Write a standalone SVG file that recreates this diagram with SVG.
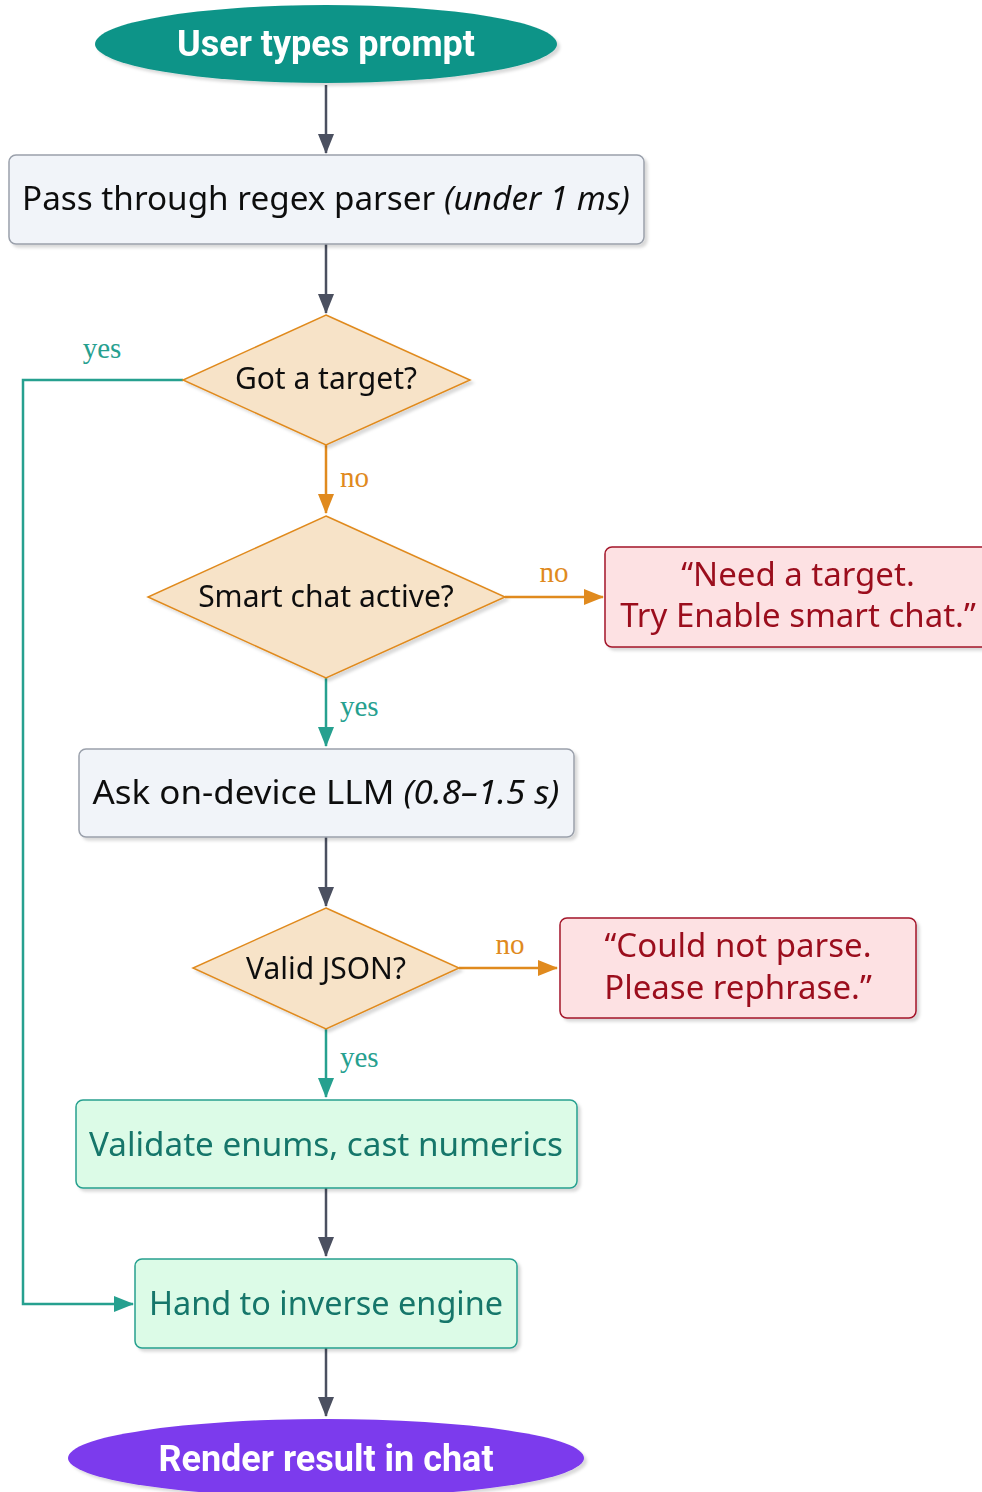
<svg xmlns="http://www.w3.org/2000/svg" width="982" height="1492" viewBox="0 0 982 1492">
<defs>
<filter id="sh" x="-10%" y="-10%" width="130%" height="140%">
<feDropShadow dx="3" dy="3" stdDeviation="1.5" flood-color="#000" flood-opacity="0.15"/>
</filter>
<marker id="aG" viewBox="0 0 20 16" refX="19" refY="8" markerWidth="20" markerHeight="16" markerUnits="userSpaceOnUse" orient="auto"><path d="M0,0 L20,8 L0,16 z" fill="#4b5060"/></marker>
<marker id="aO" viewBox="0 0 20 16" refX="19" refY="8" markerWidth="20" markerHeight="16" markerUnits="userSpaceOnUse" orient="auto"><path d="M0,0 L20,8 L0,16 z" fill="#e08a1e"/></marker>
<marker id="aT" viewBox="0 0 20 16" refX="19" refY="8" markerWidth="20" markerHeight="16" markerUnits="userSpaceOnUse" orient="auto"><path d="M0,0 L20,8 L0,16 z" fill="#26a08f"/></marker>
</defs>
<style>
.term{font-family:Roboto,"Noto Sans",sans-serif;font-weight:bold;font-size:36px;fill:#fff;text-anchor:middle}
.t{font-family:"Noto Sans","Open Sans",sans-serif;font-size:33px;text-anchor:middle}
.proc rect{fill:#f1f4f9;stroke:#9aa0ab;stroke-width:1.5}
.proc text{fill:#111}
.dec polygon{fill:#f7e3c8;stroke:#e08a1e;stroke-width:1.5}
.dec text{fill:#111;font-size:30px}
.err rect{fill:#fde1e3;stroke:#a3162a;stroke-width:1.5}
.err text{fill:#9b0f1f;font-size:33px}
.ok rect{fill:#dcfbe7;stroke:#26a08f;stroke-width:1.5}
.ok text{fill:#13766a}
.lbl{font-family:"Liberation Serif","DejaVu Serif",serif;font-size:29px}
.cg{stroke:#4b5060;stroke-width:2.5;fill:none;marker-end:url(#aG)}
.co{stroke:#e08a1e;stroke-width:2.5;fill:none;marker-end:url(#aO)}
.ct{stroke:#26a08f;stroke-width:2.5;fill:none;marker-end:url(#aT)}
</style>

<g id="connectors">
<path class="cg" d="M326,85 V153"/>
<path class="cg" d="M326,244 V313"/>
<path class="ct" d="M183,380 H23 V1304 H133"/>
<text class="lbl" x="102" y="358" fill="#26a08f" text-anchor="middle">yes</text>
<path class="co" d="M326,445 V513"/>
<text class="lbl" x="340" y="487" fill="#e08a1e">no</text>
<path class="co" d="M505,597 H603"/>
<text class="lbl" x="554" y="582" fill="#e08a1e" text-anchor="middle">no</text>
<path class="ct" d="M326,678 V746"/>
<text class="lbl" x="340" y="716" fill="#26a08f">yes</text>
<path class="cg" d="M326,837 V906"/>
<path class="co" d="M459,968 H557"/>
<text class="lbl" x="510" y="954" fill="#e08a1e" text-anchor="middle">no</text>
<path class="ct" d="M326,1029 V1097"/>
<text class="lbl" x="340" y="1067" fill="#26a08f">yes</text>
<path class="cg" d="M326,1188 V1256"/>
<path class="cg" d="M326,1348 V1416"/>
</g>

<g id="start" filter="url(#sh)">
<ellipse cx="326" cy="44" rx="231" ry="39" fill="#0e9488"/>
<text class="term" x="326" y="56">User types prompt</text>
</g>

<g id="regex" class="proc" filter="url(#sh)">
<rect x="9" y="155" width="635" height="89" rx="7"/>
<text class="t" x="326" y="210" textLength="608" lengthAdjust="spacingAndGlyphs">Pass through regex parser <tspan font-style="italic">(under 1 ms)</tspan></text>
</g>

<g id="target" class="dec" filter="url(#sh)">
<polygon points="326,315 470,380 326,445 183,380"/>
<text class="t" x="326" y="389">Got a target?</text>
</g>

<g id="smart" class="dec" filter="url(#sh)">
<polygon points="326,516 505,597 326,678 148,597"/>
<text class="t" x="326" y="607">Smart chat active?</text>
</g>

<g id="needtarget" class="err" filter="url(#sh)">
<rect x="605" y="547" width="386" height="100" rx="7"/>
<text class="t" x="798" y="586">“Need a target.</text>
<text class="t" x="798" y="627">Try Enable smart chat.”</text>
</g>

<g id="llm" class="proc" filter="url(#sh)">
<rect x="79" y="749" width="495" height="88" rx="7"/>
<text class="t" x="326" y="804" textLength="467" lengthAdjust="spacingAndGlyphs">Ask on-device LLM <tspan font-style="italic">(0.8–1.5 s)</tspan></text>
</g>

<g id="json" class="dec" filter="url(#sh)">
<polygon points="326,908 459,968 326,1029 193,968"/>
<text class="t" x="326" y="979">Valid JSON?</text>
</g>

<g id="noparse" class="err" filter="url(#sh)">
<rect x="560" y="918" width="356" height="100" rx="7"/>
<text class="t" x="738" y="957">“Could not parse.</text>
<text class="t" x="738" y="999">Please rephrase.”</text>
</g>

<g id="validate" class="ok" filter="url(#sh)">
<rect x="76" y="1100" width="501" height="88" rx="7"/>
<text class="t" x="326" y="1156" textLength="474" lengthAdjust="spacingAndGlyphs">Validate enums, cast numerics</text>
</g>

<g id="inverse" class="ok" filter="url(#sh)">
<rect x="135" y="1259" width="382" height="89" rx="7"/>
<text class="t" x="326" y="1315" textLength="354" lengthAdjust="spacingAndGlyphs">Hand to inverse engine</text>
</g>

<g id="render" filter="url(#sh)">
<ellipse cx="326" cy="1458" rx="258" ry="39" fill="#7c3aed"/>
<text class="term" x="326" y="1471">Render result in chat</text>
</g>
</svg>
